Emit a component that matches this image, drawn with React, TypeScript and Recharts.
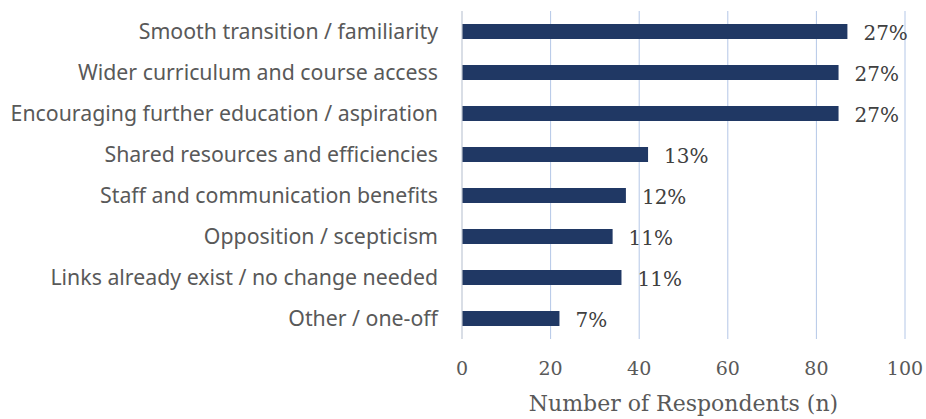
import { Bar, BarChart, CartesianGrid, LabelList, XAxis, YAxis } from "recharts";

const categories = [
  "Smooth transition / familiarity",
  "Wider curriculum and course access",
  "Encouraging further education / aspiration",
  "Shared resources and efficiencies",
  "Staff and communication benefits",
  "Opposition / scepticism",
  "Links already exist / no change needed",
  "Other / one-off"
];
const respondents = [87, 85, 85, 42, 37, 34, 36, 22];
const shares = ["27%", "27%", "27%", "13%", "12%", "11%", "11%", "7%"];
const xTicks = [0, 20, 40, 60, 80, 100];

const data = categories.map((name, i) => ({ name, value: respondents[i], label: shares[i] }));

const sans = "'Noto Sans', sans-serif";
const serif = "'DejaVu Serif', serif";

function ShareLabel(props: any) {
  const { x, y, width, height, value } = props;
  return (
    <text x={x + width + 16} y={y + height / 2 + 3} fill="#404040" fontFamily={serif} fontSize={20} dominantBaseline="middle">
      {value}
    </text>
  );
}

export default function App() {
  return (
    <div style={{ position: "absolute", left: 0, top: 0, background: "#fff" }}>
      <BarChart
        width={926}
        height={419}
        data={data}
        layout="vertical"
        margin={{ top: 11, right: 21, bottom: 0, left: 0 }}
        barSize={15}
      >
        <CartesianGrid horizontal={false} stroke="#b4c7e7" />
        <XAxis
          type="number"
          domain={[0, 100]}
          ticks={xTicks}
          axisLine={false}
          tickLine={false}
          tickMargin={17}
          height={80}
          tick={{ fill: "#595959", fontFamily: serif, fontSize: 19 }}
          label={{
            value: "Number of Respondents (n)",
            position: "insideBottom",
            offset: 8,
            fill: "#595959",
            fontFamily: serif,
            fontSize: 22
          }}
        />
        <YAxis
          type="category"
          dataKey="name"
          width={462}
          axisLine={{ stroke: "#d9d9d9" }}
          tickLine={false}
          tickMargin={18}
          tick={{ fill: "#595959", fontFamily: sans, fontSize: 21.3 }}
        />
        <Bar dataKey="value" fill="#203864" isAnimationActive={false}>
          <LabelList dataKey="label" content={ShareLabel} />
        </Bar>
      </BarChart>
    </div>
  );
}
